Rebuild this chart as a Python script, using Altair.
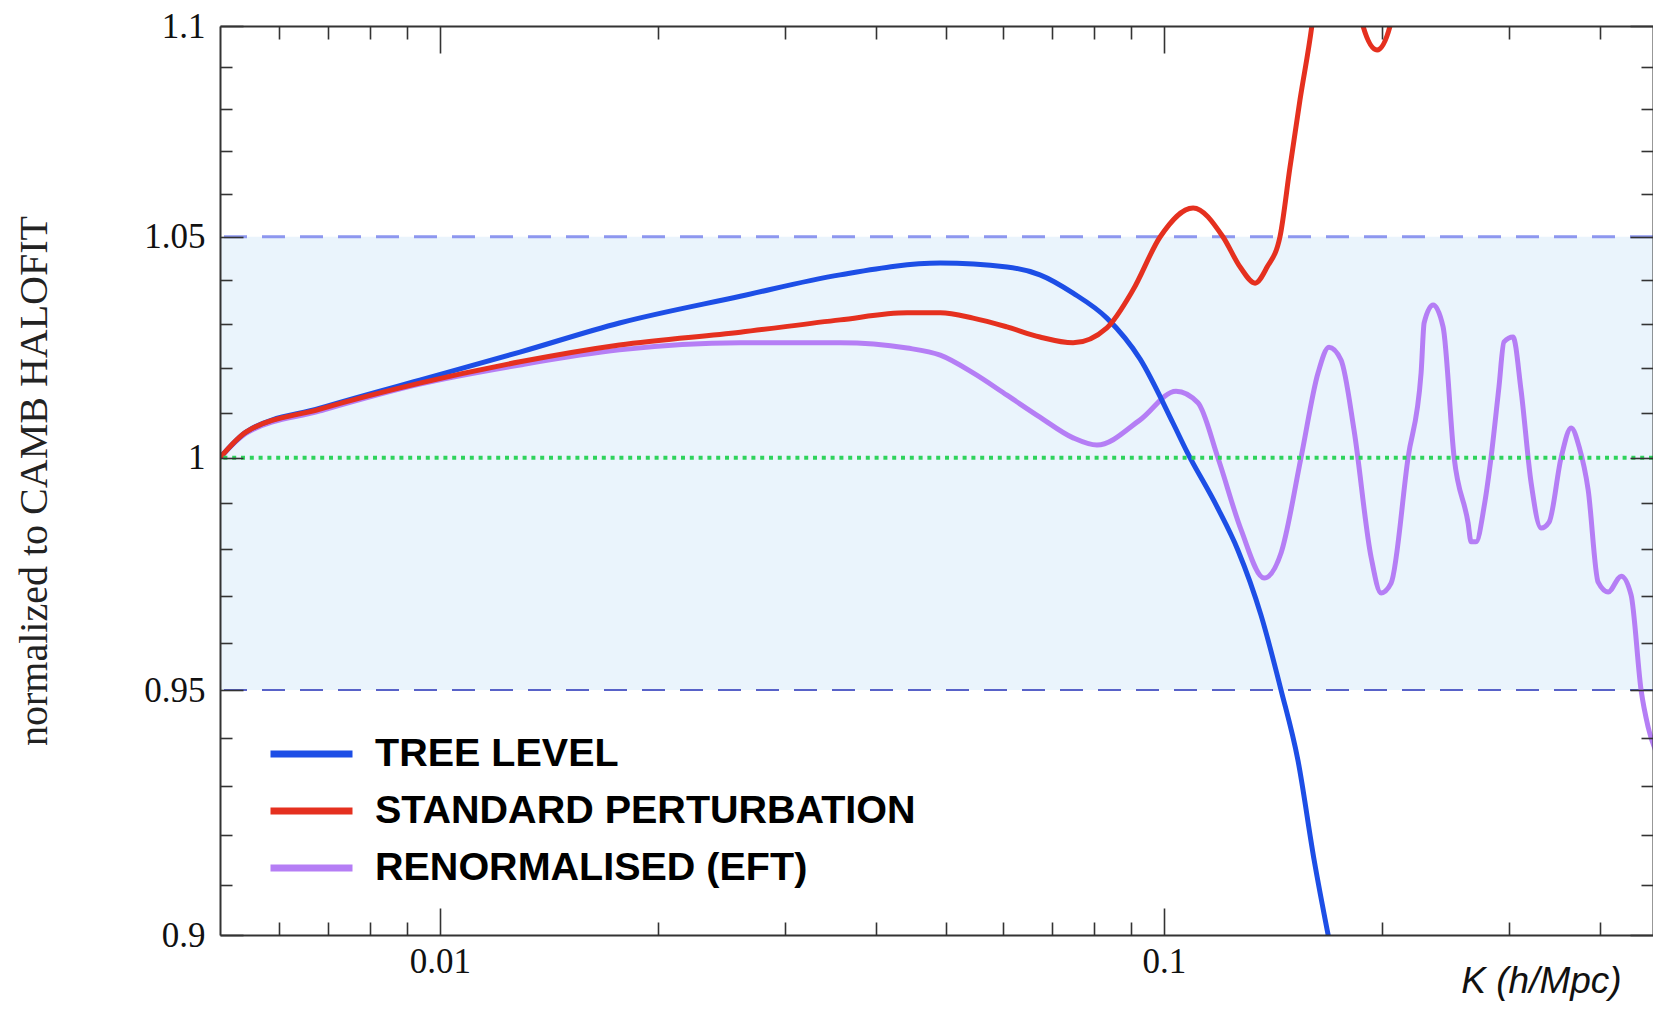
import json
import altair as alt
import pandas as pd

# ---------------- data ----------------
series_names = ["TREE LEVEL", "STANDARD PERTURBATION", "RENORMALISED (EFT)"]
series_colors = ["#1d4ee6", "#e5301f", "#b57ef5"]

k_tree = [0.00497, 0.00541, 0.00683, 0.00938, 0.0129, 0.0177, 0.0260, 0.0357, 0.0491, 0.0607,
          0.0674, 0.0749, 0.0834, 0.0927, 0.1029, 0.1076, 0.1184, 0.1265, 0.1361, 0.1451,
          0.1531, 0.1612, 0.1696]
r_tree = [1.000, 1.0058, 1.0110, 1.0173, 1.0236, 1.0302, 1.0363, 1.0412, 1.0439, 1.0430,
          1.0412, 1.0370, 1.0313, 1.0220, 1.0077, 1.0013, 0.9892, 0.9798, 0.9659, 0.9500,
          0.9354, 0.9150, 0.898]

k_std = [0.00497, 0.00541, 0.00683, 0.00938, 0.0129, 0.0177, 0.0260, 0.0357, 0.0442, 0.0491,
         0.0545, 0.0607, 0.0674, 0.0749, 0.0834, 0.0906, 0.0988, 0.1097, 0.1206, 0.1274,
         0.1336, 0.1388, 0.1446, 0.1493, 0.1541, 0.1601, 0.1722, 0.1883, 0.1969, 0.2052,
         0.2152]
r_std = [1.000, 1.0058, 1.0108, 1.0166, 1.0214, 1.0252, 1.0281, 1.0309, 1.0325, 1.0325,
         1.0313, 1.0293, 1.0270, 1.0257, 1.0291, 1.0377, 1.0500, 1.0567, 1.0500, 1.0430,
         1.0393, 1.0430, 1.0500, 1.0663, 1.0822, 1.1003, 1.16, 1.100, 1.0942, 1.100,
         1.16]

k_eft = [0.00497, 0.00541, 0.00683, 0.00938, 0.0129, 0.0177, 0.0260, 0.0357, 0.0442, 0.0491,
         0.0545, 0.0607, 0.0674, 0.0749, 0.0808, 0.0927, 0.1039, 0.1114, 0.1187, 0.1278,
         0.1375, 0.1451, 0.1546, 0.1632, 0.1690, 0.1756, 0.1830, 0.1932, 0.1994, 0.2059,
         0.2173, 0.2265, 0.2287, 0.2353, 0.2429, 0.2516, 0.2630, 0.2655, 0.2697, 0.2767,
         0.2829, 0.2901, 0.2948, 0.3034, 0.3112, 0.3214, 0.3317, 0.3403, 0.3535, 0.3650,
         0.3744, 0.3853, 0.3977, 0.4106, 0.4280, 0.4416, 0.4559, 0.4662, 0.4859]
r_eft = [1.000, 1.0055, 1.0104, 1.0164, 1.0207, 1.0241, 1.0257, 1.0257, 1.0245, 1.0229,
         1.0189, 1.0139, 1.0090, 1.0044, 1.0028, 1.0084, 1.0148, 1.0122, 1.000, 0.9842,
         0.9738, 0.9792, 1.000, 1.0189, 1.0247, 1.0218, 1.0061, 0.9783, 0.9706, 0.9727,
         1.000, 1.0189, 1.0302, 1.0343, 1.0293, 1.000, 0.9857, 0.9816, 0.9816, 0.9892,
         1.000, 1.0157, 1.0259, 1.0270, 1.0151, 0.9944, 0.9846, 0.9859, 1.000, 1.0066,
         1.0024, 0.9929, 0.9729, 0.9708, 0.9742, 0.9702, 0.950, 0.9423, 0.935]

x_major_ticks = [0.01, 0.1]
x_minor_ticks = [0.006, 0.007, 0.008, 0.009, 0.02, 0.03, 0.04, 0.05, 0.06, 0.07, 0.08, 0.09,
                 0.2, 0.3, 0.4]
y_major_ticks = [0.9, 0.95, 1.0, 1.05, 1.1]
y_minor_ticks = [0.91, 0.92, 0.93, 0.94, 0.96, 0.97, 0.98, 0.99, 1.01, 1.02, 1.03, 1.04,
                 1.06, 1.07, 1.08, 1.09]

band_low = [0.95]
band_high = [1.05]
reference_level = [1.0]
x_domain = [0.00497, 0.4735]
y_domain = [0.9, 1.1]

x_title = "K (h/Mpc)"
y_title = "normalized to CAMB HALOFIT"

# ---------------- tables ----------------
rows = []
for name, ks, rs in zip(series_names, [k_tree, k_std, k_eft], [r_tree, r_std, r_eft]):
    for k, r in zip(ks, rs):
        rows.append({"series": name, "k": k, "r": r})
df = pd.DataFrame(rows)
band_df = pd.DataFrame({"lo": band_low, "hi": band_high})
upper_df = pd.DataFrame({"y": band_high})
lower_df = pd.DataFrame({"y": band_low})
unity_df = pd.DataFrame({"y": reference_level})

# ---------------- layout / style ----------------
W, H = 1433, 909
SERIF = "Liberation Serif"
SANS = "Liberation Sans"
AXC = "#333333"

xscale = alt.Scale(type="log", domain=x_domain, nice=False)
yscale = alt.Scale(type="log", domain=y_domain, nice=False)

x_all = sorted(x_major_ticks + x_minor_ticks)
y_all = sorted(y_major_ticks + y_minor_ticks)
x_test = "indexof(%s, datum.value) >= 0" % json.dumps(x_major_ticks)
y_test = "indexof(%s, datum.value) >= 0" % json.dumps(y_major_ticks)


def cond_size(test, big, small):
    return {"condition": {"test": test, "value": big}, "value": small}


common = dict(grid=False, zindex=1, domainColor=AXC, tickColor=AXC, tickWidth=1.6)

y_label_axis = alt.Axis(orient="left", values=y_major_ticks, format=".2~f", ticks=False,
                        tickSize=0, domain=True, domainWidth=2,
                        labelFont=SERIF, labelFontSize=35, labelColor="#111111",
                        labelPadding=15, title=y_title, titleFont=SERIF, titleFontSize=40,
                        titleFontWeight="normal", titleColor="#222222", titleAngle=270,
                        titleX=-186, titleY=H / 2, titleAlign="center",
                        titleBaseline="middle", **common)
y_left_ticks = alt.Axis(orient="right", offset=-W, values=y_all, labels=False, domain=False,
                        tickSize=cond_size(y_test, 23, 12), title=None, **common)
y_right_frame = alt.Axis(orient="left", offset=-W, values=y_all, labels=False, domain=True,
                         domainWidth=2, tickSize=cond_size(y_test, 23, 12), title=None,
                         **common)

x_label_axis = alt.Axis(orient="bottom", values=x_major_ticks, format=".2~f", ticks=False,
                        tickSize=0, domain=True, domainWidth=2, labelFlush=False,
                        labelFont=SERIF, labelFontSize=35, labelColor="#111111",
                        labelPadding=9, title=x_title, titleFont=SANS,
                        titleFontStyle="italic", titleFontWeight="normal", titleFontSize=37,
                        titleColor="#111111", titleX=1321, titleY=57, titleAlign="center",
                        titleBaseline="alphabetic", **common)
x_bottom_ticks = alt.Axis(orient="top", offset=-H, values=x_all, labels=False, domain=False,
                          tickSize=cond_size(x_test, 27, 13), title=None, **common)
x_top_frame = alt.Axis(orient="bottom", offset=-H, values=x_all, labels=False, domain=True,
                       domainWidth=2, tickSize=cond_size(x_test, 27, 13), title=None,
                       **common)

legend = alt.Legend(title=None, orient="none", legendX=47, legendY=706, direction="vertical",
                    symbolType="stroke", symbolSize=6724, symbolStrokeWidth=7,
                    clipHeight=44, rowPadding=13, padding=0, labelOffset=19,
                    labelFont=SANS, labelFontWeight="bold", labelFontSize=39.5,
                    labelColor="#000000", labelLimit=2000)
color_scale = alt.Scale(domain=series_names, range=series_colors)

# ---------------- layers ----------------
band = alt.Chart(band_df).mark_rect(color="#eaf4fc").encode(
    y=alt.Y("lo:Q", scale=yscale, axis=y_label_axis), y2="hi:Q")

upper = alt.Chart(upper_df).mark_rule(color="#8d97ef", strokeWidth=3,
                                      strokeDash=[23, 15]).encode(
    y=alt.Y("y:Q", scale=yscale, axis=y_left_ticks))

lower = alt.Chart(lower_df).mark_rule(color="#5862c8", strokeWidth=2,
                                      strokeDash=[23, 15]).encode(
    y=alt.Y("y:Q", scale=yscale, axis=y_right_frame))

unity = alt.Chart(unity_df).mark_rule(color="#2fd35c", strokeWidth=4,
                                      strokeDash=[4, 4.8]).encode(
    y=alt.Y("y:Q", scale=yscale, axis=None))


def curve(name, xaxis):
    return alt.Chart(df).transform_filter(alt.datum.series == name).mark_line(
        interpolate="monotone", strokeWidth=5, clip=True).encode(
        x=alt.X("k:Q", scale=xscale, axis=xaxis),
        y=alt.Y("r:Q", scale=yscale, axis=None),
        color=alt.Color("series:N", scale=color_scale, legend=legend, sort=series_names),
    )


eft = curve(series_names[2], x_top_frame)
tree = curve(series_names[0], x_label_axis)
std = curve(series_names[1], x_bottom_ticks)

chart = alt.layer(band, upper, lower, eft, tree, std, unity).resolve_axis(
    x="independent", y="independent"
).properties(
    width=W, height=H,
    autosize=alt.AutoSizeParams(type="none"),
    padding={"left": 212, "top": 18, "right": 0, "bottom": 66},
    background="white",
).configure_view(strokeWidth=0)

chart.save("out.html", embed_options={"renderer": "svg", "actions": False})
